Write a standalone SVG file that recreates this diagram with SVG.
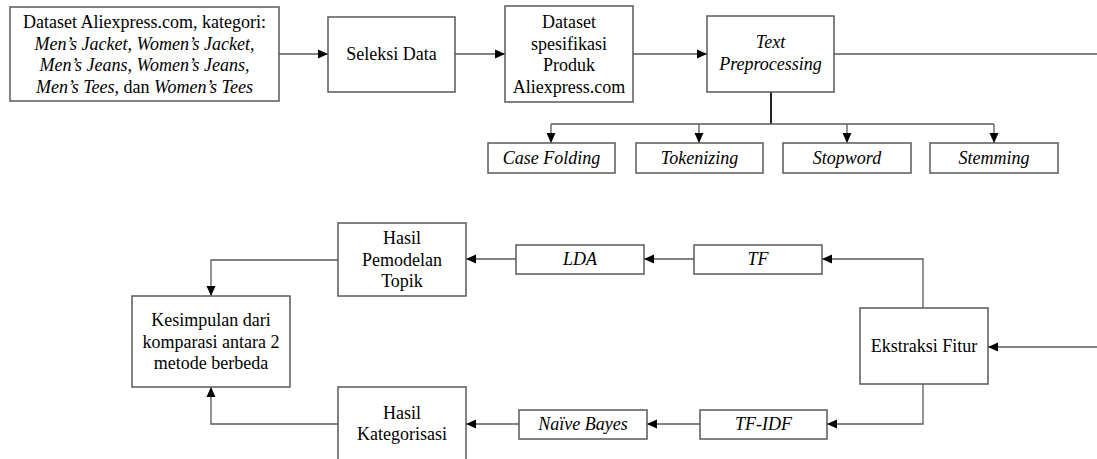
<svg xmlns="http://www.w3.org/2000/svg" width="1097" height="459" viewBox="0 0 1097 459">
<style>
.box{fill:#fff;stroke:#595959;stroke-width:1.5}
.t{font-family:'Liberation Serif','Times New Roman',Tinos,'DejaVu Serif','Noto Serif',serif;font-size:18px;fill:#000;text-anchor:middle}
.i{font-style:italic}
.c{fill:none;stroke:#595959;stroke-width:1.3}
.thick{stroke:#222;stroke-width:2}
</style>
<defs>
<marker id="ah" markerUnits="userSpaceOnUse" markerWidth="10" markerHeight="10" viewBox="0 0 10 10" refX="10" refY="5" orient="auto">
<path d="M0,0.5 L10,5 L0,9.5 Z" fill="#000"/>
</marker>
</defs>
<rect width="1097" height="459" fill="#fff"/>
<g id="connectors">
<path class="c" d="M279,54 H328" marker-end="url(#ah)"/>
<path class="c" d="M455,54 H505" marker-end="url(#ah)"/>
<path class="c" d="M633,54 H707" marker-end="url(#ah)"/>
<path class="c" d="M834,54 H1097"/>
<path class="c thick" d="M771,92 V124"/>
<path class="c" d="M551,124 H994"/>
<path class="c" d="M551,124 V143" marker-end="url(#ah)"/>
<path class="c" d="M699,124 V143" marker-end="url(#ah)"/>
<path class="c" d="M847,124 V143" marker-end="url(#ah)"/>
<path class="c" d="M994,124 V143" marker-end="url(#ah)"/>
<path class="c" d="M1097,347 H988" marker-end="url(#ah)"/>
<path class="c" d="M923,308 V259 H822" marker-end="url(#ah)"/>
<path class="c" d="M694,259 H644" marker-end="url(#ah)"/>
<path class="c" d="M516,259 H466" marker-end="url(#ah)"/>
<path class="c" d="M923,384 V424 H827" marker-end="url(#ah)"/>
<path class="c" d="M700,424 H647" marker-end="url(#ah)"/>
<path class="c" d="M519,424 H466" marker-end="url(#ah)"/>
<path class="c" d="M338,260 H211 V296" marker-end="url(#ah)"/>
<path class="c" d="M338,424 H211 V387" marker-end="url(#ah)"/>
</g>
<g id="n-dataset">
<rect class="box" x="10" y="7" width="269" height="94"/>
<text class="t" x="144.5" y="28">Dataset Aliexpress.com, kategori:</text>
<text class="t i" x="144.5" y="49.5">Men’s Jacket, Women’s Jacket,</text>
<text class="t i" x="144.5" y="71">Men’s Jeans, Women’s Jeans,</text>
<text class="t" x="144.5" y="92.5"><tspan class="i">Men’s Tees</tspan>, dan <tspan class="i">Women’s Tees</tspan></text>
</g>
<g id="n-seleksi">
<rect class="box" x="328" y="17" width="127" height="75"/>
<text class="t" x="391.5" y="60">Seleksi Data</text>
</g>
<g id="n-spesifikasi">
<rect class="box" x="505" y="6" width="128" height="96"/>
<text class="t" x="569" y="28">Dataset</text>
<text class="t" x="569" y="49.5">spesifikasi</text>
<text class="t" x="569" y="71">Produk</text>
<text class="t" x="569" y="92.5">Aliexpress.com</text>
</g>
<g id="n-preprocessing">
<rect class="box" x="707" y="16" width="127" height="76"/>
<text class="t i" x="770.5" y="48">Text</text>
<text class="t i" x="770.5" y="70">Preprocessing</text>
</g>
<g id="n-casefolding">
<rect class="box" x="488" y="143" width="127" height="30"/>
<text class="t i" x="551.5" y="164">Case Folding</text>
</g>
<g id="n-tokenizing">
<rect class="box" x="636" y="143" width="127" height="30"/>
<text class="t i" x="699.5" y="164">Tokenizing</text>
</g>
<g id="n-stopword">
<rect class="box" x="783" y="143" width="128" height="30"/>
<text class="t i" x="847" y="164">Stopword</text>
</g>
<g id="n-stemming">
<rect class="box" x="930" y="143" width="128" height="30"/>
<text class="t i" x="994" y="164">Stemming</text>
</g>
<g id="n-ekstraksi">
<rect class="box" x="860" y="308" width="128" height="76"/>
<text class="t" x="924" y="352">Ekstraksi Fitur</text>
</g>
<g id="n-tf">
<rect class="box" x="694" y="245" width="128" height="29"/>
<text class="t i" x="758" y="265">TF</text>
</g>
<g id="n-lda">
<rect class="box" x="516" y="245" width="128" height="29"/>
<text class="t i" x="580" y="265">LDA</text>
</g>
<g id="n-tfidf">
<rect class="box" x="700" y="410" width="127" height="29"/>
<text class="t i" x="763.5" y="430">TF-IDF</text>
</g>
<g id="n-naivebayes">
<rect class="box" x="519" y="410" width="128" height="29"/>
<text class="t i" x="583" y="430">Naïve Bayes</text>
</g>
<g id="n-pemodelan">
<rect class="box" x="338" y="223" width="128" height="73"/>
<text class="t" x="402" y="244">Hasil</text>
<text class="t" x="402" y="266">Pemodelan</text>
<text class="t" x="402" y="287">Topik</text>
</g>
<g id="n-kategorisasi">
<rect class="box" x="338" y="387" width="128" height="74"/>
<text class="t" x="402" y="419">Hasil</text>
<text class="t" x="402" y="440">Kategorisasi</text>
</g>
<g id="n-kesimpulan">
<rect class="box" x="132" y="296" width="158" height="91"/>
<text class="t" x="211" y="326">Kesimpulan dari</text>
<text class="t" x="211" y="348">komparasi antara 2</text>
<text class="t" x="211" y="369">metode berbeda</text>
</g>
</svg>
